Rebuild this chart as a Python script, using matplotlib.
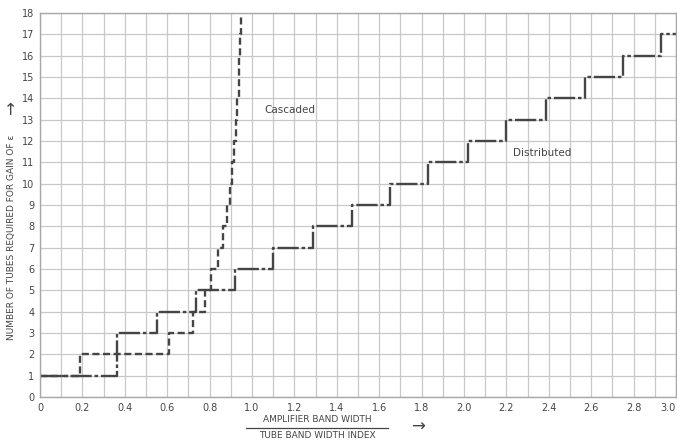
import matplotlib.pyplot as plt
import numpy as np

# step edges: x where the tube count rises to n
casc_x = [0, 0.19, 0.61, 0.72, 0.78, 0.805, 0.84, 0.865, 0.88, 0.895,
          0.905, 0.915, 0.925, 0.93, 0.937, 0.94, 0.945, 0.95]
casc_n = [1, 2, 3, 4, 5, 6, 7, 8, 9, 10, 11, 12, 13, 14, 15, 16, 17, 18]

dist_x = [0, 0.365, 0.55, 0.735, 0.92, 1.10, 1.29, 1.47, 1.65, 1.83,
          2.02, 2.20, 2.385, 2.57, 2.75, 2.93, 3.0]
dist_n = [1, 3, 4, 5, 6, 7, 8, 9, 10, 11, 12, 13, 14, 15, 16, 17, 17]

x_ticks = [0, 0.2, 0.4, 0.6, 0.8, 1.0, 1.2, 1.4, 1.6, 1.8, 2.0, 2.2, 2.4,
           2.6, 2.8, 3.0]
x_labels = ["0", "0.2", "0.4", "0.6", "0.8", "1.0", "1.2", "1.4", "1.6",
            "1.8", "2.0", "2.2", "2.4", "2.6", "2.8", "3.0"]

ink = "#454545"
grid_c = "#c8c8c8"

fig = plt.figure(figsize=(6.77, 4.42), dpi=100)
ax = fig.add_axes([40 / 677, 45 / 442, 636 / 677, 384 / 442])

ax.set_xlim(0, 3.0)
ax.set_ylim(0, 18)
ax.set_xticks(np.arange(0, 3.01, 0.1), minor=True)
ax.set_xticks(x_ticks)
ax.set_xticklabels(x_labels)
ax.set_yticks(range(0, 19))
ax.grid(True, which="both", color=grid_c, linewidth=0.9)
ax.tick_params(which="both", length=0, labelsize=7, colors=ink, pad=4)
# last label sits on the right edge of the sheet
ax.get_xticklabels()[-1].set_horizontalalignment("right")
for s in ax.spines.values():
    s.set_color("#a8a8a8")
    s.set_linewidth(1.0)
ax.set_axisbelow(True)

ax.step(dist_x, dist_n, where="post", color=ink, linewidth=1.7,
        linestyle=(0, (9, 1.2, 1.5, 1.2)))
ax.step(casc_x, casc_n, where="post", color=ink, linewidth=1.7,
        linestyle=(0, (3, 1.5)))

ax.text(1.18, 13.45, "Cascaded", ha="center", va="center", fontsize=7.5,
        color=ink)
ax.text(2.37, 11.45, "Distributed", ha="center", va="center", fontsize=7.5,
        color=ink)

# axis titles as on the scan
fig.text(12 / 677, 1 - 237 / 442, "NUMBER OF TUBES REQUIRED FOR GAIN OF ε",
         rotation=90, ha="center", va="center", fontsize=6.5, color=ink)
fig.text(12 / 677, 1 - 108 / 442, "\u2192", rotation=90, ha="center",
         va="center", fontsize=12, color=ink)
fig.text(317 / 677, 1 - 419 / 442, "AMPLIFIER BAND WIDTH", ha="center",
         va="center", fontsize=6.5, color=ink)
fig.text(317 / 677, 1 - 436 / 442, "TUBE BAND WIDTH INDEX", ha="center",
         va="center", fontsize=6.5, color=ink)
fig.add_artist(plt.Line2D([246 / 677, 388 / 677], [1 - 428 / 442, 1 - 428 / 442],
                          color=ink, linewidth=0.9))
fig.text(418 / 677, 1 - 427 / 442, "\u2192", ha="center", va="center",
         fontsize=12, color=ink)

fig.savefig("out.png", dpi=100)
